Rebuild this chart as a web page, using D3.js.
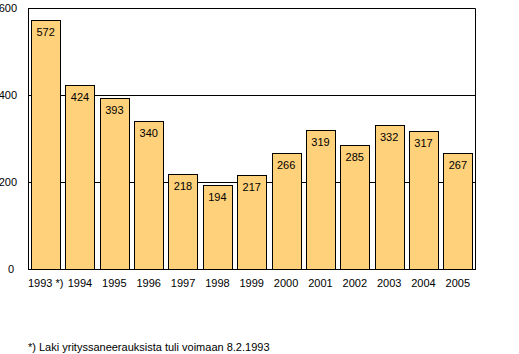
<!DOCTYPE html>
<html>
<head>
<meta charset="utf-8">
<script src="https://cdn.jsdelivr.net/npm/d3@7"></script>
<style>
  body { margin: 0; background: #fff; }
  text { font-family: "Liberation Sans", Arial, sans-serif; font-size: 11px; fill: #000; }
</style>
</head>
<body>
<svg id="drawing_region"></svg>
<script>
const years = ["1993 *)", "1994", "1995", "1996", "1997", "1998", "1999", "2000", "2001", "2002", "2003", "2004", "2005"];
const values = [572, 424, 393, 340, 218, 194, 217, 266, 319, 285, 332, 317, 267];
const yTicks = [0, 200, 400, 600];
const footnote = "*) Laki yrityssaneerauksista tuli voimaan 8.2.1993";

const width = 519, height = 354;
const margin = {top: 8, right: 44, bottom: 85, left: 28};

const svg = d3.select('#drawing_region')
    .attr('width', width)
    .attr('height', height);

const xscale = d3.scaleBand()
    .domain(years)
    .range([margin.left + 1, width - margin.right - 0.5])
    .paddingInner(0.15)
    .paddingOuter(0.06);

const yscale = d3.scaleLinear()
    .domain([0, 600])
    .range([height - margin.bottom, margin.top]);

const left = margin.left, right = width - margin.right;

// gridlines
svg.append('g').selectAll('line')
    .data(yTicks.filter(d => d > 0))
    .join('line')
    .attr('x1', left).attr('x2', right)
    .attr('y1', d => Math.round(yscale(d)) + 0.5)
    .attr('y2', d => Math.round(yscale(d)) + 0.5)
    .attr('stroke', '#000');

// bars
svg.append('g').selectAll('rect')
    .data(values)
    .join('rect')
    .attr('x', (d, i) => Math.round(xscale(years[i])) + 0.5)
    .attr('y', d => Math.round(yscale(d)) + 0.5)
    .attr('width', Math.round(xscale.bandwidth()))
    .attr('height', d => Math.round(yscale(0)) - Math.round(yscale(d)))
    .attr('fill', '#ffd17a')
    .attr('stroke', '#000');

// value labels
svg.append('g').selectAll('text')
    .data(values)
    .join('text')
    .attr('x', (d, i) => xscale(years[i]) + xscale.bandwidth() / 2)
    .attr('y', d => yscale(d) + 16)
    .attr('text-anchor', 'middle')
    .text(d => d);

// frame: left axis, top, right
svg.append('path')
    .attr('d', `M${left + 0.5},${Math.round(yscale(0)) + 0.5}V${Math.round(yscale(600)) + 0.5}H${right + 0.5}V${Math.round(yscale(0)) + 0.5}`)
    .attr('fill', 'none')
    .attr('stroke', '#000');

// baseline
svg.append('line')
    .attr('x1', left).attr('x2', right + 1)
    .attr('y1', Math.round(yscale(0)) + 0.5)
    .attr('y2', Math.round(yscale(0)) + 0.5)
    .attr('stroke', '#000');

// y tick labels
svg.append('g').selectAll('text')
    .data(yTicks)
    .join('text')
    .attr('x', d => d === 0 ? 14 : 17)
    .attr('y', d => yscale(d) + 4)
    .attr('text-anchor', 'end')
    .text(d => d);

// x labels
svg.append('g').selectAll('text')
    .data(years)
    .join('text')
    .attr('x', d => xscale(d) + xscale.bandwidth() / 2)
    .attr('y', 287)
    .attr('text-anchor', 'middle')
    .text(d => d);

svg.append('text')
    .attr('x', 28)
    .attr('y', 351)
    .text(footnote);
</script>
</body>
</html>
